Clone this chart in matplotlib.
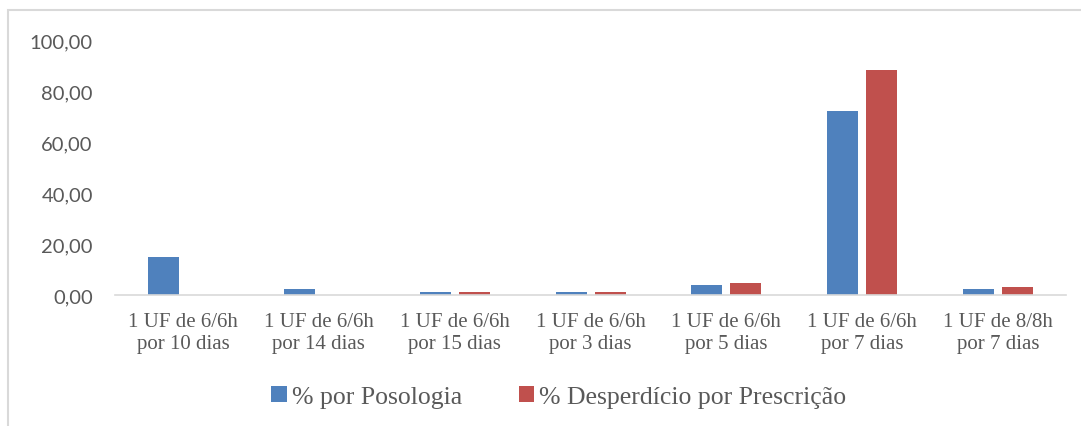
import numpy as np
import matplotlib.pyplot as plt
from matplotlib.patches import Rectangle

plt.rcParams['font.serif'] = ['Liberation Serif', 'Times New Roman', 'DejaVu Serif']

categorias = ['1 UF de 6/6h\npor 10 dias', '1 UF de 6/6h\npor 14 dias',
              '1 UF de 6/6h\npor 15 dias', '1 UF de 6/6h\npor 3 dias',
              '1 UF de 6/6h\npor 5 dias', '1 UF de 6/6h\npor 7 dias',
              '1 UF de 8/8h\npor 7 dias']
posologia = [15.0, 2.5, 1.0, 1.0, 3.8, 72.3, 2.4]
desperdicio = [0, 0, 1.3, 1.3, 4.6, 88.2, 3.0]
yticks = [0, 20, 40, 60, 80, 100]

azul = '#4F81BD'
vermelho = '#C0504D'
cinza = '#595959'

fig = plt.figure(figsize=(10.81, 4.27), dpi=100)
ax = fig.add_axes([0.1064, 0.307, 0.8798, 0.597])

# borda da area do grafico (so topo e esquerda aparecem)
fig.patches.append(Rectangle((0.0074, -0.1), 1.2, 1.0732, transform=fig.transFigure,
                             fill=False, edgecolor='#D9D9D9', lw=1.5, zorder=0))

x = np.arange(len(categorias))
w = 0.228
ax.bar(x - 0.1435, posologia, w, color=azul, label='% por Posologia')
ax.bar(x + 0.1435, desperdicio, w, color=vermelho, label='% Desperdício por Prescrição')

ax.set_xlim(-0.5, len(categorias) - 0.5)
ax.set_ylim(0, 100)
ax.set_yticks(yticks)
ax.set_yticklabels([('%.2f' % v).replace('.', ',') for v in yticks],
                   fontsize=14.5, family='Lato', color=cinza)
ax.set_xticks(x)
ax.set_xticklabels(categorias, fontsize=15, family='serif', color=cinza,
                   linespacing=1.25)
ax.tick_params(axis='y', length=0, pad=16)
ax.tick_params(axis='x', length=0, pad=12)

for s in ['top', 'right', 'left']:
    ax.spines[s].set_visible(False)
ax.spines['bottom'].set_color('#D9D9D9')
ax.spines['bottom'].set_linewidth(1.2)

fig.legend(loc='center', bbox_to_anchor=(0.517, 0.068), ncol=2, frameon=False,
           prop={'family': 'serif', 'size': 18.5}, labelcolor=cinza,
           handlelength=0.6, handleheight=0.6, handletextpad=0.2, columnspacing=2.2)

fig.savefig('out.png', dpi=100)
